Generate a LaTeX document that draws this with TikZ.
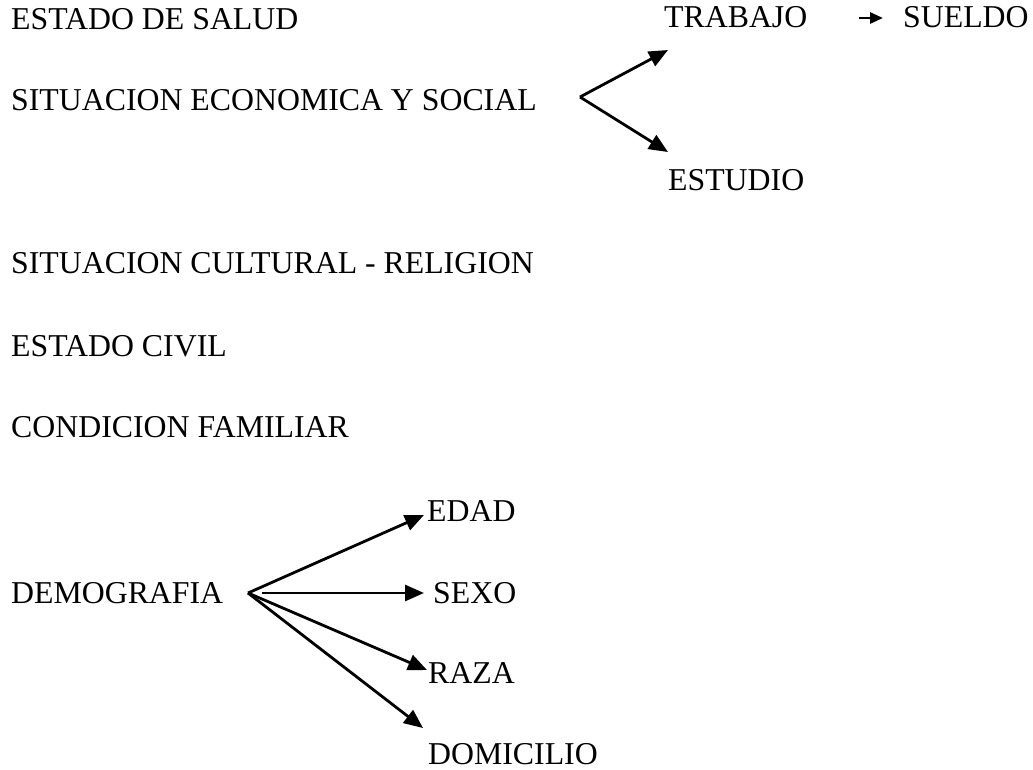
\documentclass[tikz,border=0pt]{standalone}
\usepackage{fontspec}
\setmainfont{Liberation Serif}
\usetikzlibrary{arrows.meta}
\begin{document}
\begin{tikzpicture}[x=1pt,y=-1pt,
  lbl/.style={anchor=base west,inner sep=0pt,font=\fontsize{31.8}{38}\selectfont},
  arr/.style={line width=2.8pt,-{Triangle[length=19pt,width=16pt]}},
  sarr/.style={line width=2.8pt,-{Triangle[length=13pt,width=11pt]}}]
\useasboundingbox (0,0) rectangle (1033,769);
% left column
\node[lbl] (salud) at (11,29) {ESTADO DE SALUD};
\node[lbl] (econ) at (11,110) {SITUACION ECONOMICA Y SOCIAL};
\node[lbl] (cult) at (11,273) {SITUACION CULTURAL - RELIGION};
\node[lbl] (civil) at (11,356) {ESTADO CIVIL};
\node[lbl] (fam) at (11,437) {CONDICION FAMILIAR};
\node[lbl] (demo) at (11,603) {DEMOGRAFIA};
% top right
\node[lbl] (trab) at (664,27) {TRABAJO};
\node[lbl] (sueldo) at (903,27) {SUELDO};
\node[lbl] (estud) at (668,190) {ESTUDIO};
% demographic items
\node[lbl] (edad) at (427,521) {EDAD};
\node[lbl] (sexo) at (433,603) {SEXO};
\node[lbl] (raza) at (428,683) {RAZA};
\node[lbl,text depth=0pt] (dom) at (428,764) {DOMICILIO};
% fork points and tips
\coordinate (fe) at (580,97);
\coordinate (te1) at (668,50);
\coordinate (te2) at (668,152);
\coordinate (ts0) at (859,18);
\coordinate (ts1) at (883,18);
\coordinate (fd) at (248,593);
\coordinate (sx0) at (262,593);
\coordinate (td1) at (424,515);
\coordinate (td2) at (424,593);
\coordinate (td3) at (427,670);
\coordinate (td4) at (423,728);
% connectors
\draw[arr] (fe) -- (te1);
\draw[arr] (fe) -- (te2);
\draw[sarr] (ts0) -- (ts1);
\draw[arr] (fd) -- (td1);
\draw[arr] (sx0) -- (td2);
\draw[arr] (fd) -- (td3);
\draw[arr] (fd) -- (td4);
\end{tikzpicture}
\end{document}
